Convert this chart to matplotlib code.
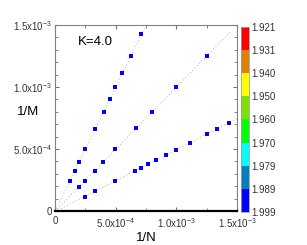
import numpy as np
import matplotlib
matplotlib.use('Agg')
import matplotlib.pyplot as plt
import matplotlib.ticker as mtick
from matplotlib.colors import ListedColormap, BoundaryNorm
from matplotlib.cm import ScalarMappable

plt.rcParams.update({'font.family': ['Liberation Sans', 'DejaVu Sans'],
                     'mathtext.fontset': 'custom',
                     'mathtext.rm': 'Liberation Sans',
                     'mathtext.it': 'Liberation Sans'})

# data (1/N, 1/M)
x1 = [1.21e-4, 1.65e-4, 1.98e-4, 2.50e-4, 3.32e-4, 4.02e-4, 4.56e-4, 4.98e-4, 5.55e-4, 6.25e-4, 7.12e-4]
y1 = [2.44e-4, 3.25e-4, 3.95e-4, 4.98e-4, 6.65e-4, 7.98e-4, 9.06e-4, 9.98e-4, 1.110e-3, 1.250e-3, 1.430e-3]
x2 = [1.98e-4, 2.50e-4, 3.33e-4, 3.99e-4, 4.95e-4, 6.66e-4, 7.98e-4, 1.000e-3, 1.254e-3]
y2 = [1.96e-4, 2.44e-4, 3.25e-4, 3.95e-4, 4.98e-4, 6.67e-4, 7.98e-4, 9.98e-4, 1.250e-3]
x3 = [2.50e-4, 3.33e-4, 4.95e-4, 6.63e-4, 7.12e-4, 7.67e-4, 8.33e-4, 9.13e-4,
      1.000e-3, 1.111e-3, 1.254e-3, 1.337e-3, 1.433e-3]
y3 = [1.15e-4, 1.61e-4, 2.44e-4, 3.25e-4, 3.49e-4, 3.81e-4, 4.11e-4, 4.52e-4,
      4.94e-4, 5.51e-4, 6.21e-4, 6.61e-4, 7.10e-4]
series = [(x1, y1), (x2, y2), (x3, y3)]
line_ends = [0.75e-3, 1.45e-3, 1.5e-3]

cb_levels = [1.921, 1.931, 1.940, 1.950, 1.960, 1.970, 1.979, 1.989, 1.999]
cb_colors = ['#FF0000', '#E08000', '#FFFF00', '#80E000', '#00FF00', '#00FFFF', '#0080C0', '#0000FF']

xticks = [0, 5e-4, 1e-3, 1.5e-3]
xtick_labels = ['0', '5.0x10$^{-4}$', '1.0x10$^{-3}$', '1.5x10$^{-3}$']
yticks = [0, 5e-4, 1e-3, 1.5e-3]
ytick_labels = ['0', '5.0x10$^{-4}$', '1.0x10$^{-3}$', '1.5x10$^{-3}$']

fig = plt.figure(figsize=(3.07, 2.45), dpi=100)
ax = fig.add_axes([0.179, 0.139, 0.593, 0.759])

for (xs, ys), xe in zip(series, line_ends):
    k, b = np.polyfit(xs, ys, 1)
    xl = np.array([0, xe])
    ax.plot(xl, k * xl + b, linestyle=(0, (1, 3)), color='#9a9a9a', linewidth=0.6, zorder=1)
    ax.plot(xs, ys, 's', color='#0000FF', markersize=3.2, markeredgewidth=0, zorder=3)

ax.set_xlim(0, 1.5e-3)
ax.set_ylim(0, 1.5e-3)
ax.xaxis.set_major_locator(mtick.FixedLocator(xticks))
ax.xaxis.set_major_formatter(mtick.FixedFormatter(xtick_labels))
ax.yaxis.set_major_locator(mtick.FixedLocator(yticks))
ax.yaxis.set_major_formatter(mtick.FixedFormatter(ytick_labels))
ax.xaxis.set_minor_locator(mtick.MultipleLocator(2.5e-4))
ax.yaxis.set_minor_locator(mtick.MultipleLocator(1e-4))
ax.tick_params(which='both', direction='in', colors='#707070', labelcolor='#333333',
               labelsize=7, top=True, right=True, pad=2)
ax.tick_params(axis='x', pad=3.5)
ax.tick_params(which='major', length=3)
ax.tick_params(which='minor', length=2)

for s in ['top', 'right', 'left']:
    ax.spines[s].set_color('#808080')
    ax.spines[s].set_linewidth(0.8)
ax.spines['bottom'].set_color('black')
ax.spines['bottom'].set_linewidth(1.6)

ax.set_xlabel('1/N', fontsize=9.5)
ax.set_ylabel('1/M', fontsize=9.5, rotation=0)
ax.xaxis.set_label_coords(0.5, -0.113)
ax.yaxis.set_label_coords(-0.148, 0.5)
ax.text(0.126, 0.909, 'K=4.0', transform=ax.transAxes, fontsize=9.5, va='center', ha='left')

# colour scale, 1.921 (red) on top
cax = fig.add_axes([0.785, 0.135, 0.026, 0.755])
cmap = ListedColormap(cb_colors)
norm = BoundaryNorm(cb_levels, cmap.N)
cb = fig.colorbar(ScalarMappable(norm=norm, cmap=cmap), cax=cax, spacing='uniform', ticks=cb_levels)
cb.ax.invert_yaxis()
cb.ax.set_yticklabels([f'{v:.3f}' for v in cb_levels])
cb.ax.tick_params(labelsize=7, length=0, pad=2, labelcolor='#333333')
cb.outline.set_edgecolor('#a0a0a0')
cb.outline.set_linewidth(0.6)

fig.savefig('out.png', dpi=100)
